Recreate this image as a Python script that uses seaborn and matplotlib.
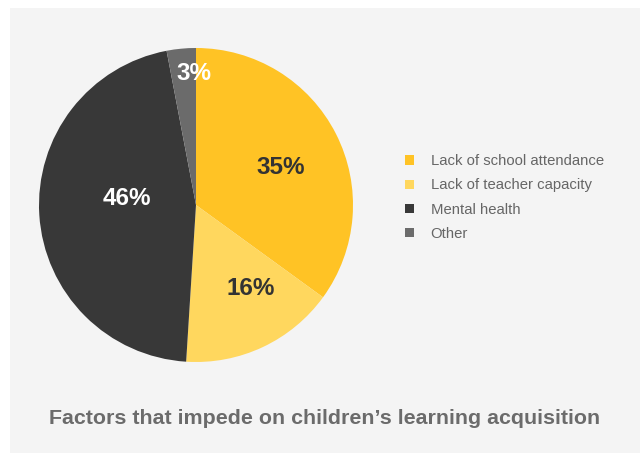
import matplotlib
matplotlib.use('Agg')
import matplotlib.pyplot as plt
import matplotlib.patches as mpatches
import seaborn as sns
import numpy as np

sns.set_theme(style="white")
plt.rcParams['font.family'] = ['Liberation Sans', 'DejaVu Sans']

# data
factors = ["Lack of school attendance", "Lack of teacher capacity", "Mental health", "Other"]
shares = [35, 16, 46, 3]
title = "Factors that impede on children\u2019s learning acquisition"

# styles
colors = ["#FFC325", "#FFD75E", "#383838", "#6B6B6B"]
label_colors = ["#333333", "#333333", "white", "white"]
label_radius = [0.59, 0.634, 0.445, 0.838]
label_shift = [-3.1, 8.3, -8.9, -4.7]   # degrees, nudges label off the wedge middle

W, H = 640, 454
fig = plt.figure(figsize=(6.4, 4.54), dpi=100)
fig.patch.set_facecolor("white")
# grey panel
fig.patches.append(mpatches.Rectangle((10 / W, 1 / H), 1 - 10 / W, 1 - 9 / H,
                                      transform=fig.transFigure, facecolor="#F4F4F4",
                                      edgecolor="none", zorder=-5))

cx, cy, r = 196, 205, 157
ax = fig.add_axes([(cx - r) / W, (H - cy - r) / H, 2 * r / W, 2 * r / H])
ax.set_zorder(2)
ax.set_facecolor("none")
wedges, _ = ax.pie(shares, colors=colors, startangle=90, counterclock=False,
                   radius=1, wedgeprops=dict(linewidth=0))
ax.set_xlim(-1, 1)
ax.set_ylim(-1, 1)
ax.set_aspect("equal")
ax.axis("off")

for w, s, c, d, sh in zip(wedges, shares, label_colors, label_radius, label_shift):
    mid = np.deg2rad((w.theta1 + w.theta2) / 2 + sh)
    ax.text(d * np.cos(mid), d * np.sin(mid), f"{s}%", ha="center", va="center",
            fontsize=17.5, fontweight="bold", color=c)

handles = [mpatches.Patch(facecolor=c, edgecolor="none", label=f) for c, f in zip(colors, factors)]
leg = fig.legend(handles=handles, loc="upper left", bbox_to_anchor=(392 / W, 1 - 141 / H),
                 frameon=False, fontsize=10.7, handlelength=0.6, handleheight=0.6,
                 handletextpad=1.1, labelspacing=0.68)
for t in leg.get_texts():
    t.set_color("#666666")

fig.text(325 / W, 1 - 418 / H, title, ha="center", va="center", fontsize=15.4,
         fontweight="bold", color="#6B6B6B")

fig.savefig("out.png", dpi=100, facecolor=fig.get_facecolor())
